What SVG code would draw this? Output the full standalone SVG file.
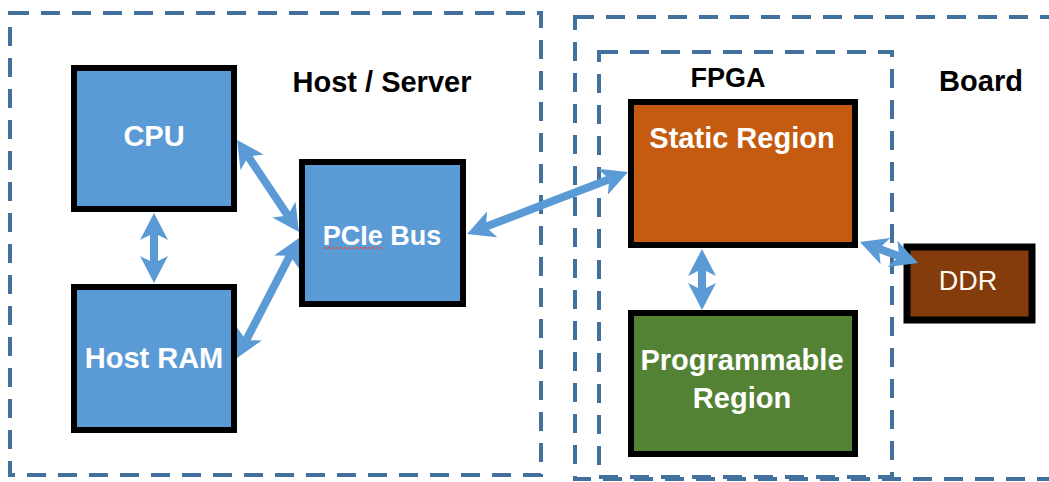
<svg xmlns="http://www.w3.org/2000/svg" width="1049" height="482" viewBox="0 0 1049 482">
<style>
.dash{fill:none;stroke:#41719C;stroke-width:4;stroke-dasharray:19 12}
.box{stroke:#000;stroke-width:6}
.blue{fill:#5B9BD5}
.orange{fill:#C55A11}
.green{fill:#548235}
.brown{fill:#843C0C}
.lbl{font-family:"Liberation Sans",Arial,sans-serif;font-weight:bold;font-size:29px;text-anchor:middle}
.in{fill:#fff}
.out{fill:#000}
.conn{stroke:#5B9BD5;stroke-width:8;fill:none;marker-start:url(#ah);marker-end:url(#ah)}
</style>
<defs>
<marker id="ah" markerUnits="userSpaceOnUse" markerWidth="27" markerHeight="28" viewBox="0 0 27 28" refX="7" refY="14" orient="auto-start-reverse">
<path d="M0,0 L27,14 L0,28 L7,14 z" fill="#5B9BD5"/>
</marker>
</defs>
<rect width="1049" height="482" fill="#fff"/>
<g id="containers">
<rect id="host" class="dash" x="10" y="13" width="531" height="462"/>
<rect id="board" class="dash" x="575" y="17" width="490" height="462"/>
<rect id="fpga" class="dash" x="599" y="52" width="293" height="425"/>
<text class="lbl out" x="382" y="92">Host / Server</text>
<text class="lbl out" x="728" y="87" style="font-size:27px">FPGA</text>
<text class="lbl out" x="981" y="91">Board</text>
</g>
<g id="cpu">
<rect class="box blue" x="74" y="68" width="160" height="141"/>
<text class="lbl in" x="154" y="146">CPU</text>
</g>
<g id="hostram">
<rect class="box blue" x="74" y="287" width="160" height="143"/>
<text class="lbl in" x="154" y="368">Host RAM</text>
</g>
<g id="pcie">
<rect class="box blue" x="302" y="162" width="161" height="142"/>
<text class="lbl in" x="382" y="245" style="font-size:27px">PCIe Bus</text>
<path d="M323,249 l2,-2 l2,2 l2,-2 l2,2 l2,-2 l2,2 l2,-2 l2,2 l2,-2 l2,2 l2,-2 l2,2 l2,-2 l2,2 l2,-2 l2,2 l2,-2 l2,2 l2,-2 l2,2 l2,-2 l2,2 l2,-2 l2,2 l2,-2 l2,2 l2,-2 l2,2 l2,-2 l2,2" fill="none" stroke="#D9534F" stroke-width="1"/>
</g>
<g id="static">
<rect class="box orange" x="631" y="102" width="224" height="143"/>
<text class="lbl in" x="742" y="148">Static Region</text>
</g>
<g id="programmable">
<rect class="box green" x="631" y="313" width="224" height="141"/>
<text class="lbl in" x="742" y="370">Programmable</text>
<text class="lbl in" x="742" y="408">Region</text>
</g>
<g id="ddr">
<rect class="box brown" x="907" y="247" width="125" height="73" style="stroke-width:7"/>
<text class="lbl in" x="968" y="290" style="font-weight:normal;font-size:27px;fill:#FFF8EC">DDR</text>
</g>
<g id="connectors">
<line class="conn" x1="154" y1="233" x2="154" y2="263"/>
<line class="conn" x1="248.2" y1="156.6" x2="287.8" y2="215.4"/>
<line class="conn" x1="246.2" y1="340.2" x2="289.8" y2="255.8"/>
<line class="conn" x1="485.7" y1="226.8" x2="609.3" y2="179.2"/>
<line class="conn" x1="702" y1="269" x2="702" y2="290"/>
<line class="conn" x1="878.8" y1="248.8" x2="899.2" y2="256.2"/>
</g>
</svg>
